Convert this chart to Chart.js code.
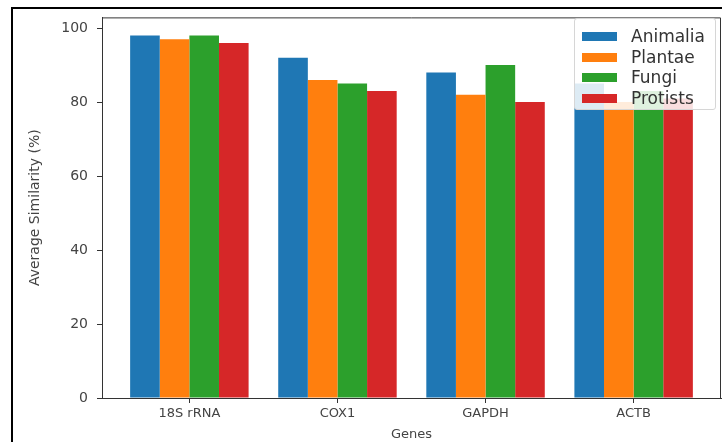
<!DOCTYPE html>
<html>
<head>
<meta charset="utf-8">
<script src="https://cdn.jsdelivr.net/npm/chart.js@4"></script>
<style>
  body { margin: 0; background: #fff; }
  #wrap { position: relative; width: 722px; height: 442px; overflow: hidden; }
  #frame { position: absolute; left: 11px; top: 7px; right: -5px; bottom: -5px;
           border-left: 2px solid #000; border-top: 2px solid #000; pointer-events: none; }
  #legend { position: absolute; left: 574px; top: 18px; width: 140px; height: 90px;
            background: rgba(255,255,255,0.85); border: 1px solid #d6d6d6; border-radius: 3px;
            font-family: 'DejaVu Sans', sans-serif; font-size: 17px; color: #333; }
  .row { position: absolute; left: 0; height: 20px; line-height: 20px; white-space: nowrap; }
  .sw { position: absolute; left: 7px; top: 6px; width: 35px; height: 9px; }
  .lb { position: absolute; left: 56px; top: 0; }
</style>
</head>
<body>
<div id="wrap">
  <canvas id="myChart" width="722" height="442"></canvas>
  <div id="legend"></div>
  <div id="frame"></div>
</div>
<script>
const genes = ['18S rRNA', 'COX1', 'GAPDH', 'ACTB'];
const groups = ['Animalia', 'Plantae', 'Fungi', 'Protists'];
const animalia = [98, 92, 88, 85];
const plantae = [97, 86, 82, 80];
const fungi = [98, 85, 90, 83];
const protists = [96, 83, 80, 81];
const yTicks = [0, 20, 40, 60, 80, 100];
const colors = ['#1f77b4', '#ff7f0e', '#2ca02c', '#d62728'];

const series = [animalia, plantae, fungi, protists];
const axisColor = '#333';
const textColor = '#444';

// top and right spines
const spines = {
  id: 'spines',
  afterDraw(chart) {
    const { ctx, chartArea: a } = chart;
    ctx.save();
    ctx.strokeStyle = axisColor;
    ctx.lineWidth = 1;
    ctx.beginPath();
    ctx.moveTo(a.left, a.top + 0.5);
    ctx.lineTo(a.right - 0.5, a.top + 0.5);
    ctx.lineTo(a.right - 0.5, a.bottom);
    ctx.stroke();
    ctx.restore();
  }
};

const ctx = document.getElementById('myChart').getContext('2d');
const chart = new Chart(ctx, {
  type: 'bar',
  data: {
    datasets: groups.map((g, k) => ({
      label: g,
      data: series[k].map((v, i) => ({ x: i, y: v })),
      backgroundColor: colors[k],
      borderWidth: 0
    }))
  },
  options: {
    responsive: false,
    animation: false,
    layout: { padding: { left: 0, top: 12, right: 1, bottom: 0 } },
    datasets: { bar: { categoryPercentage: 0.8, barPercentage: 1.0 } },
    plugins: { legend: { display: false }, tooltip: { enabled: false } },
    scales: {
      x: {
        type: 'linear',
        min: -0.59,
        max: 3.59,
        offset: false,
        afterBuildTicks: s => { s.ticks = genes.map((g, i) => ({ value: i })); },
        afterFit: s => { s.height = 44; },
        grid: { offset: false, drawOnChartArea: false, drawTicks: true, tickLength: 5, color: axisColor },
        border: { display: true, color: axisColor },
        ticks: {
          autoSkip: false, maxRotation: 0, padding: 3,
          color: textColor,
          font: { family: 'DejaVu Sans', size: 13 },
          callback: v => genes[v]
        },
        title: {
          display: true, text: 'Genes', color: textColor,
          font: { family: 'DejaVu Sans', size: 13, lineHeight: 1.0 },
          padding: { top: 0, bottom: 1 }
        }
      },
      y: {
        min: 0,
        max: 102.9,
        afterBuildTicks: s => { s.ticks = yTicks.map(v => ({ value: v })); },
        afterFit: s => { s.width = 102; },
        grid: { drawOnChartArea: false, drawTicks: true, tickLength: 5, color: axisColor },
        border: { display: true, color: axisColor },
        ticks: {
          padding: 9,
          color: textColor,
          font: { family: 'DejaVu Sans', size: 14 }
        },
        title: {
          display: true, text: 'Average Similarity (%)', color: textColor,
          font: { family: 'DejaVu Sans', size: 14 },
          padding: { top: 27, bottom: 0 }
        }
      }
    }
  },
  plugins: [spines]
});

// legend box built from the datasets
const legend = document.getElementById('legend');
chart.data.datasets.forEach((ds, k) => {
  const row = document.createElement('div');
  row.className = 'row';
  row.style.top = (7 + k * 20.5) + 'px';
  row.innerHTML = '<span class="sw" style="background:' + ds.backgroundColor + '"></span>' +
                  '<span class="lb">' + ds.label + '</span>';
  legend.appendChild(row);
});
</script>
</body>
</html>
